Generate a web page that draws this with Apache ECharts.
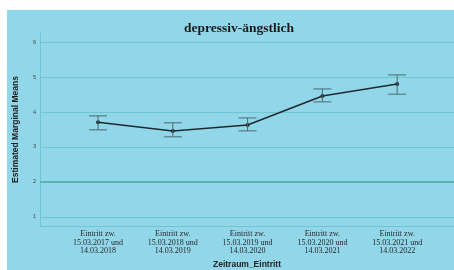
<!DOCTYPE html>
<html>
<head>
<meta charset="utf-8">
<script src="https://cdn.jsdelivr.net/npm/echarts@6/dist/echarts.min.js"></script>
<style>
  html, body { margin: 0; padding: 0; background: #fff; }
  #main { position: absolute; left: 7px; top: 10px; width: 447px; height: 260px; }
</style>
</head>
<body>
<div id="main"></div>
<script>
// Zeitraum categories (x positions 1..5)
const categories = [
  'Eintritt zw.\n15.03.2017 und\n14.03.2018',
  'Eintritt zw.\n15.03.2018 und\n14.03.2019',
  'Eintritt zw.\n15.03.2019 und\n14.03.2020',
  'Eintritt zw.\n15.03.2020 und\n14.03.2021',
  'Eintritt zw.\n15.03.2021 und\n14.03.2022'
];
const means = [3.71, 3.46, 3.63, 4.46, 4.80];
const upper = [3.89, 3.69, 3.83, 4.66, 5.06];
const lower = [3.49, 3.29, 3.46, 4.29, 4.51];
const yTicks = [1, 2, 3, 4, 5, 6];
const xTicks = [1, 2, 3, 4, 5];

const gridColor = '#6fc6cf';

const chart = echarts.init(document.getElementById('main'));
chart.setOption({
  animation: false,
  backgroundColor: '#92d6ea',
  title: {
    text: 'depressiv-ängstlich',
    left: 172,
    top: 7,
    textStyle: {
      fontFamily: 'Liberation Serif',
      fontWeight: 'bold',
      fontSize: 13.5,
      color: '#1a1a1a'
    }
  },
  grid: { left: 33, right: 0, top: 23, bottom: 44, outerBoundsMode: 'none', containLabel: false },
  xAxis: {
    type: 'value',
    min: 0.224,
    max: 5.76,
    name: 'Zeitraum_Eintritt',
    nameLocation: 'middle',
    nameGap: 33,
    nameTextStyle: { fontFamily: 'Liberation Sans', fontWeight: 'bold', fontSize: 8.5, color: '#222' },
    axisLine: { show: true, lineStyle: { color: gridColor, width: 1 } },
    axisTick: { show: false, customValues: xTicks },
    splitLine: { show: false },
    axisLabel: {
      customValues: xTicks,
      formatter: v => categories[Math.round(v) - 1] || '',
      fontFamily: 'Liberation Serif',
      fontSize: 8,
      lineHeight: 8.5,
      color: '#2a2a2a',
      margin: 4
    }
  },
  yAxis: {
    type: 'value',
    min: 0.74,
    max: 6.26,
    name: 'Estimated Marginal Means',
    nameLocation: 'middle',
    nameGap: 20,
    nameTextStyle: { fontFamily: 'Liberation Sans', fontWeight: 'bold', fontSize: 8.5, color: '#222' },
    axisLine: { show: true, lineStyle: { color: gridColor, width: 1 } },
    axisTick: { show: false, customValues: yTicks },
    axisLabel: { customValues: yTicks, fontSize: 5.5, color: '#444', margin: 4, fontFamily: 'Liberation Sans' },
    splitLine: { show: true, lineStyle: { color: gridColor, width: 1 } }
  },
  series: [
    {
      type: 'line',
      data: means.map((m, i) => [xTicks[i], m]),
      symbol: 'circle',
      symbolSize: 4,
      lineStyle: { color: '#1d2b2e', width: 1.5 },
      itemStyle: { color: '#1d2b2e' },
      z: 3,
      markLine: {
        silent: true,
        symbol: 'none',
        label: { show: false },
        lineStyle: { color: '#5ab3b6', width: 2, type: 'solid' },
        data: [{ yAxis: 2 }]
      }
    },
    {
      type: 'custom',
      data: means.map((m, i) => [xTicks[i], lower[i], upper[i]]),
      z: 4,
      renderItem: (params, api) => {
        const lo = api.coord([api.value(0), api.value(1)]);
        const hi = api.coord([api.value(0), api.value(2)]);
        const w = 9;
        const style = { stroke: '#4a6a70', lineWidth: 1 };
        return {
          type: 'group',
          children: [
            { type: 'line', shape: { x1: hi[0], y1: hi[1], x2: lo[0], y2: lo[1] }, style },
            { type: 'line', shape: { x1: hi[0] - w, y1: hi[1], x2: hi[0] + w, y2: hi[1] }, style },
            { type: 'line', shape: { x1: lo[0] - w, y1: lo[1], x2: lo[0] + w, y2: lo[1] }, style }
          ]
        };
      }
    }
  ]
});
</script>
</body>
</html>
